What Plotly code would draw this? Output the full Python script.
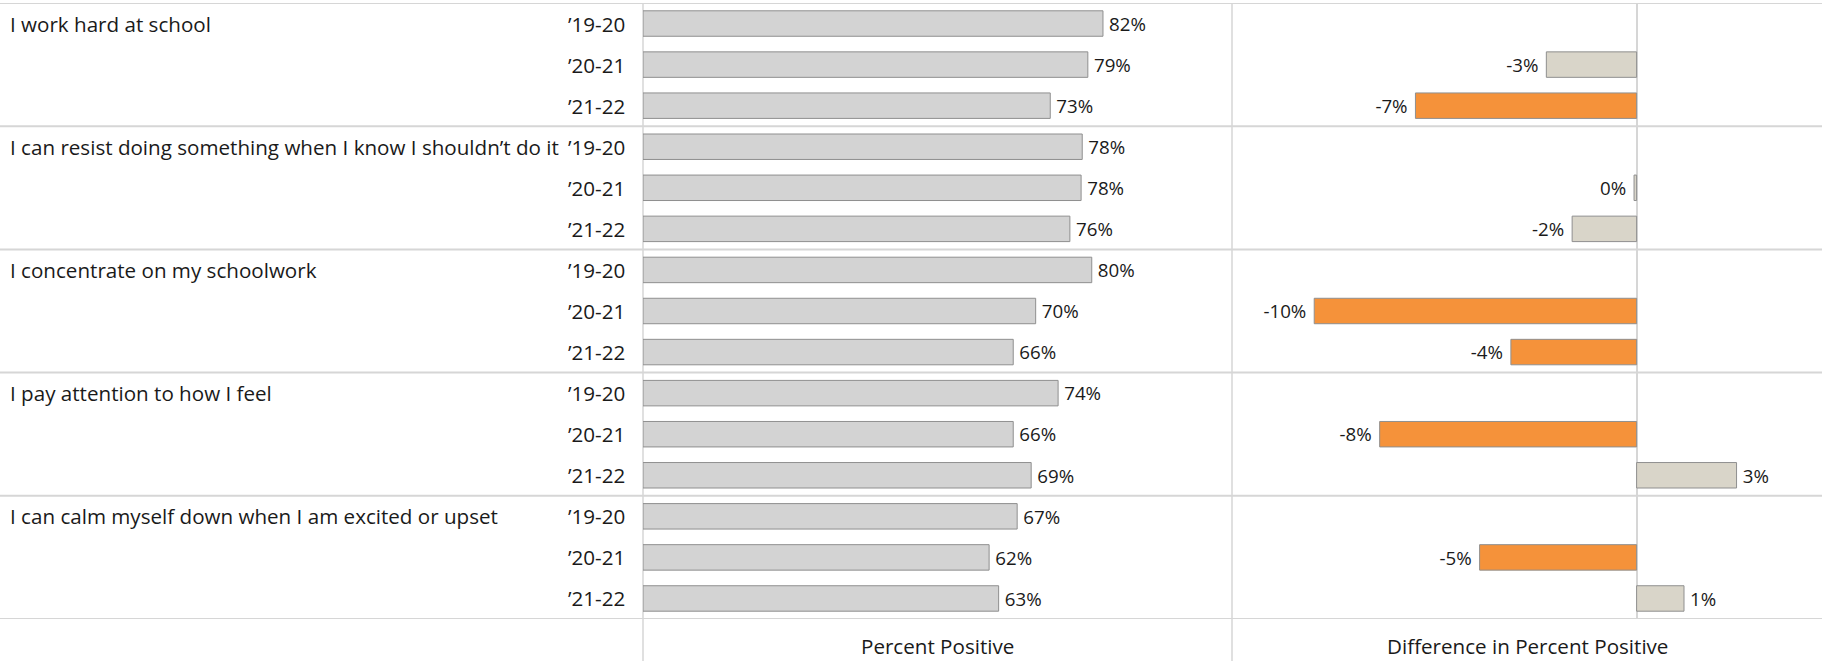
import plotly.graph_objects as go

questions = [
    "I work hard at school",
    "I can resist doing something when I know I shouldn’t do it",
    "I concentrate on my schoolwork",
    "I pay attention to how I feel",
    "I can calm myself down when I am excited or upset",
]
years = ["’19-20", "’20-21", "’21-22"]

# Percent positive (fraction), per question x year
pct_positive = [
    0.820, 0.793, 0.726,
    0.783, 0.781, 0.761,
    0.800, 0.700, 0.660,
    0.740, 0.660, 0.692,
    0.667, 0.617, 0.634,
]
# Difference vs. previous year (fraction)
pct_diff = [
    None, -0.028, -0.0686,
    None, -0.0008, -0.020,
    None, -0.100, -0.039,
    None, -0.0797, 0.031,
    None, -0.0487, 0.0147,
]
# Significant change flag
significant = [
    False, False, True,
    False, False, False,
    False, True, True,
    False, True, False,
    False, True, False,
]

W, H = 1822, 661
ML, MR, MT, MB = 643, 0, 3, 42
PW = W - ML - MR
PH = H - MT - MB

FONT = "Open Sans"
FS = 20.6
GRID = "#d6d6d6"
BAR_GRAY = "#d3d3d3"
BEIGE = "#d9d5c9"
ORANGE = "#f5923a"
OUTLINE = "#8f8f8f"
TXT = "#1a1a1a"

n_per = len(years)
rows = list(range(len(questions) * n_per))

def pct_text(v):
    if v is None:
        return ""
    s = f"{int(round(v * 100))}%"
    # small spacing between bar end and label
    return s + "\u00a0" if v < 0 else "\u2009" + s

fig = go.Figure()
fig.add_trace(go.Bar(
    x=pct_positive, y=rows, orientation="h",
    marker=dict(color=BAR_GRAY, line=dict(color=OUTLINE, width=1)),
    width=0.62,
    text=[pct_text(v) for v in pct_positive], textposition="outside",
    textfont=dict(family=FONT, size=FS, color=TXT),
    cliponaxis=False, xaxis="x", yaxis="y", hoverinfo="skip",
))
fig.add_trace(go.Bar(
    x=pct_diff, y=rows, orientation="h",
    marker=dict(color=[ORANGE if s else BEIGE for s in significant],
                line=dict(color=OUTLINE, width=1)),
    width=0.62,
    text=[pct_text(v) for v in pct_diff], textposition="outside",
    textfont=dict(family=FONT, size=FS, color=TXT),
    cliponaxis=False, xaxis="x2", yaxis="y", hoverinfo="skip",
))

split = (1232 - ML) / PW
shapes = []
left_paper = -ML / PW
for g in range(len(questions) + 1):
    yv = g * n_per - 0.5
    shapes.append(dict(type="line", xref="paper", yref="y", x0=left_paper, x1=1,
                       y0=yv, y1=yv, line=dict(color=GRID, width=2), layer="below"))
bottom_paper = -MB / PH
for xv in [0, split]:
    shapes.append(dict(type="line", xref="paper", yref="paper", x0=xv, x1=xv,
                       y0=bottom_paper, y1=1, line=dict(color=GRID, width=1.5), layer="below"))

annotations = []
for gi, q in enumerate(questions):
    annotations.append(dict(text=q, xref="paper", yref="y", x=(8 - ML) / PW, y=gi * n_per,
                            xanchor="left", yanchor="middle", showarrow=False,
                            font=dict(family=FONT, size=FS, color=TXT)))
    for yi, yr in enumerate(years):
        annotations.append(dict(text=yr, xref="paper", yref="y", x=(627 - ML) / PW,
                                y=gi * n_per + yi, xanchor="right", yanchor="middle",
                                showarrow=False, font=dict(family=FONT, size=FS, color=TXT)))
title_y = -(646 - (H - MB)) / PH
annotations.append(dict(text="Percent Positive", xref="paper", yref="paper", x=split / 2, y=title_y,
                        xanchor="center", yanchor="middle", showarrow=False,
                        font=dict(family=FONT, size=FS, color=TXT)))
annotations.append(dict(text="Difference in Percent Positive", xref="paper", yref="paper",
                        x=(split + 1) / 2, y=title_y, xanchor="center", yanchor="middle",
                        showarrow=False, font=dict(family=FONT, size=FS, color=TXT)))

fig.update_layout(
    width=W, height=H,
    margin=dict(l=ML, r=MR, t=MT, b=MB, pad=0),
    paper_bgcolor="white", plot_bgcolor="white",
    showlegend=False,
    barmode="overlay",
    xaxis=dict(domain=[0, split], range=[0, 1.05], showgrid=False, zeroline=False,
               showticklabels=False, ticks="", fixedrange=True),
    xaxis2=dict(domain=[split, 1], range=[-0.1255, 0.0575], showgrid=False,
                zeroline=True, zerolinecolor=GRID, zerolinewidth=1.5,
                showticklabels=False, ticks="", anchor="y", fixedrange=True),
    yaxis=dict(range=[len(rows) - 0.5, -0.5], showgrid=False, zeroline=False,
               showticklabels=False, ticks="", fixedrange=True),
    shapes=shapes,
    annotations=annotations,
    font=dict(family=FONT, size=FS),
)

fig.write_html("out.html", config={"displayModeBar": False},
               post_script="document.body.style.margin='0';document.body.style.overflow='hidden';")
